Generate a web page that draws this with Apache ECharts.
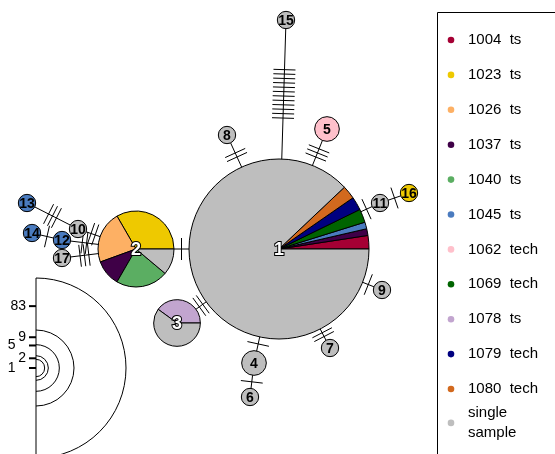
<!DOCTYPE html>
<html>
<head>
<meta charset="utf-8">
<script src="https://cdn.jsdelivr.net/npm/echarts@6/dist/echarts.min.js"></script>
<style>
  html, body { margin: 0; padding: 0; background: #ffffff; }
  #chart { width: 555px; height: 454px; }
</style>
</head>
<body>
<div id="chart"></div>
<script>
// Sample groups shown in the legend, with their colours
const groupNames = ['1004  ts', '1023  ts', '1026  ts', '1037  ts', '1040  ts', '1045  ts',
  '1062  tech', '1069  tech', '1078  ts', '1079  tech', '1080  tech', 'single\nsample'];
const groupColors = ['#A50034', '#EEC900', '#FDB064', '#3F0047', '#5BAE62', '#4A7BBF',
  '#FFC0CB', '#006400', '#C2A5CF', '#000080', '#D2691E', '#BEBEBE'];

// Haplotype identifiers and their layout positions in the network plane
const haploIds = ['1', '2', '3', '4', '5', '6', '7', '8', '9', '10', '11', '12', '13', '14', '15', '16', '17'];
const haploX = [279, 136, 177, 254, 327, 250, 330, 227, 382, 78, 380, 62, 27, 32, 286, 409, 62];
const haploY = [249, 249, 323, 363, 129, 397, 348, 135, 290, 229, 203, 240, 203, 233, 20, 193, 258];

// Composition of each haplotype: [group index, number of samples]
const haploComposition = [
  [[0, 2], [3, 1], [5, 1], [7, 2], [9, 2], [10, 2], [11, 73]],
  [[1, 3], [2, 2], [3, 1], [4, 2], [11, 1]],
  [[8, 2], [11, 3]],
  [[11, 2]],
  [[6, 2]],
  [[11, 1]],
  [[11, 1]],
  [[11, 1]],
  [[11, 1]],
  [[11, 1]],
  [[11, 1]],
  [[5, 1]],
  [[5, 1]],
  [[5, 1]],
  [[11, 1]],
  [[1, 1]],
  [[11, 1]]
];

// Network links: [from haplotype, to haplotype, number of mutations]
const links = [
  ['1', '2', 1], ['1', '3', 2], ['1', '4', 1], ['4', '6', 1], ['1', '7', 2],
  ['1', '9', 1], ['1', '11', 1], ['11', '16', 1], ['1', '5', 3], ['1', '15', 12],
  ['1', '8', 2], ['2', '10', 2], ['2', '12', 2], ['2', '17', 3], ['10', '13', 3],
  ['12', '14', 1]
];

// Sizes shown in the circle-size key
const legendSizes = [1, 2, 5, 9, 83];

const FONT = '"Liberation Sans", Arial, Helvetica, sans-serif';

// Radius in pixels for a haplotype of n samples
function sizeScale(n) {
  const dom = [0, 9, 83], rng = [5, 38, 90];
  if (n <= dom[1]) return rng[0] + (n - dom[0]) / (dom[1] - dom[0]) * (rng[1] - rng[0]);
  return rng[1] + (n - dom[1]) / (dom[2] - dom[1]) * (rng[2] - rng[1]);
}
function totalOf(i) {
  return haploComposition[i].reduce((s, p) => s + p[1], 0);
}

const nodeData = haploIds.map((id, i) => [haploX[i], haploY[i]]);
const linkData = links.map(([a, b, m]) => {
  const i = haploIds.indexOf(a), j = haploIds.indexOf(b);
  return [haploX[i], haploY[i], haploX[j], haploY[j], i, j, m];
});

// Link line plus one cross-hatch per mutation, centred between the two circles
function renderLink(params, api) {
  const p1 = api.coord([api.value(0), api.value(1)]);
  const p2 = api.coord([api.value(2), api.value(3)]);
  const r1 = sizeScale(totalOf(api.value(4)));
  const r2 = sizeScale(totalOf(api.value(5)));
  const nMut = api.value(6);
  const dx = p2[0] - p1[0], dy = p2[1] - p1[1];
  const d = Math.sqrt(dx * dx + dy * dy);
  const ux = dx / d, uy = dy / d, vx = -uy, vy = ux;
  const children = [{
    type: 'line',
    shape: { x1: p1[0], y1: p1[1], x2: p2[0], y2: p2[1] },
    style: { stroke: '#000', lineWidth: 1 }
  }];
  const seg = d - r1 - r2;
  const mid = r1 + seg / 2;
  const spacing = Math.min(4.4, seg / (nMut + 1));
  const half = 11;
  for (let k = 0; k < nMut; k++) {
    const t = mid + (k - (nMut - 1) / 2) * spacing;
    const qx = p1[0] + ux * t, qy = p1[1] + uy * t;
    children.push({
      type: 'line',
      shape: { x1: qx - vx * half, y1: qy - vy * half, x2: qx + vx * half, y2: qy + vy * half },
      style: { stroke: '#000', lineWidth: 1 }
    });
  }
  return { type: 'group', children };
}

// Haplotype circle (pie when several groups share it) with its number
function renderNode(params, api) {
  const i = params.dataIndex;
  const c = api.coord([api.value(0), api.value(1)]);
  const comp = haploComposition[i];
  const total = totalOf(i);
  const r = sizeScale(total);
  const children = [];
  if (comp.length === 1) {
    children.push({
      type: 'circle',
      shape: { cx: c[0], cy: c[1], r },
      style: { fill: groupColors[comp[0][0]], stroke: '#000', lineWidth: 1 }
    });
  } else {
    let a = 0;
    comp.forEach(([g, n]) => {
      const b = a + n / total * Math.PI * 2;
      children.push({
        type: 'sector',
        shape: { cx: c[0], cy: c[1], r0: 0, r, startAngle: -b, endAngle: -a, clockwise: true },
        style: { fill: groupColors[g], stroke: '#000', lineWidth: 1 }
      });
      a = b;
    });
  }
  const isPie = comp.length > 1;
  children.push({
    type: 'text',
    z2: 10,
    style: {
      text: haploIds[i],
      x: c[0], y: c[1] + 1,
      align: 'center', verticalAlign: 'middle',
      fontFamily: FONT,
      fontSize: isPie ? 18 : 14,
      fontWeight: 'bold',
      fill: isPie ? '#ffffff' : '#000000',
      stroke: isPie ? '#000000' : null,
      lineWidth: isPie ? 2 : 0,
      strokeFirst: true
    }
  });
  return { type: 'group', children };
}

// Circle-size key: concentric half circles with ticks on a vertical line
const keyCx = 36, keyCy = 368;
const keyGraphics = [];
const maxR = sizeScale(legendSizes[legendSizes.length - 1]);
keyGraphics.push({
  type: 'line',
  shape: { x1: keyCx, y1: keyCy - maxR, x2: keyCx, y2: 460 },
  style: { stroke: '#000', lineWidth: 1 }
});
legendSizes.forEach(n => {
  keyGraphics.push({
    type: 'arc',
    shape: { cx: keyCx, cy: keyCy, r: sizeScale(n), startAngle: -Math.PI / 2, endAngle: Math.PI / 2, clockwise: true },
    style: { stroke: '#000', lineWidth: 1, fill: null }
  });
});
const tickY = legendSizes.map(n => keyCy - 14 * Math.log(n));
let prevY = null, prevShifted = false;
legendSizes.slice().reverse().forEach((n, k) => {
  const y = tickY[legendSizes.length - 1 - k];
  const shifted = prevY !== null && !prevShifted && (y - prevY) < 10;
  keyGraphics.push({
    type: 'line',
    shape: { x1: keyCx - 7, y1: y, x2: keyCx, y2: y },
    style: { stroke: '#000', lineWidth: 2 }
  });
  keyGraphics.push({
    type: 'text',
    style: {
      text: String(n), x: shifted ? 15.5 : 26, y: y,
      align: 'right', verticalAlign: 'middle',
      fontFamily: FONT, fontSize: 14, fill: '#000'
    }
  });
  prevY = y;
  prevShifted = shifted;
});

// Group legend inside a framed box
const legendGraphics = [{
  type: 'rect',
  shape: { x: 437.5, y: 12.5, width: 200, height: 500 },
  style: { fill: '#fff', stroke: '#000', lineWidth: 1 }
}];
groupNames.forEach((name, k) => {
  const y = 40 + k * 34.9 - (k === groupNames.length - 1 ? 1 : 0);
  legendGraphics.push({
    type: 'circle',
    shape: { cx: 451, cy: y, r: 3.3 },
    style: { fill: groupColors[k] }
  });
  legendGraphics.push({
    type: 'text',
    style: {
      text: name, x: 468, y: y,
      align: 'left', verticalAlign: 'middle',
      fontFamily: FONT, fontSize: 15, lineHeight: 20, fill: '#000'
    }
  });
});

const chart = echarts.init(document.getElementById('chart'), null, { renderer: 'canvas' });
chart.setOption({
  animation: false,
  backgroundColor: '#ffffff',
  grid: { left: 0, right: 0, top: 0, bottom: 0 },
  xAxis: { type: 'value', min: 0, max: 555, show: false },
  yAxis: { type: 'value', min: 0, max: 454, inverse: true, show: false },
  graphic: keyGraphics.concat(legendGraphics),
  series: [
    {
      type: 'custom', name: 'links', coordinateSystem: 'cartesian2d', z: 1,
      encode: { x: [0, 2], y: [1, 3] },
      renderItem: renderLink, data: linkData, silent: true
    },
    {
      type: 'custom', name: 'haplotypes', coordinateSystem: 'cartesian2d', z: 2,
      encode: { x: 0, y: 1 },
      renderItem: renderNode, data: nodeData, silent: true
    }
  ]
});
</script>
</body>
</html>
